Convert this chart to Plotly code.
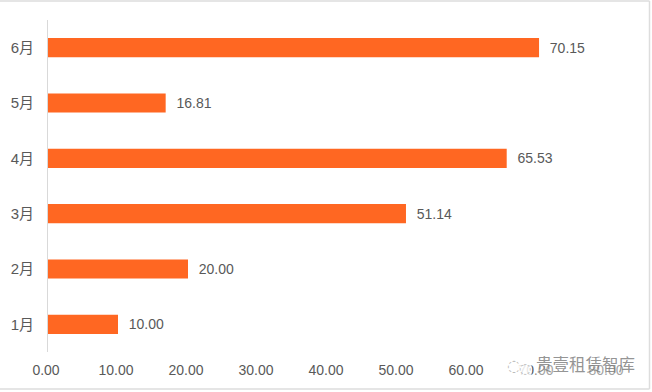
import plotly.graph_objects as go

months = ["1月", "2月", "3月", "4月", "5月", "6月"]
values = [10.00, 20.00, 51.14, 65.53, 16.81, 70.15]
x_ticks = [0, 10, 20, 30, 40, 50, 60, 70, 80]
x_tick_labels = ["0.00", "10.00", "20.00", "30.00", "40.00", "50.00", "60.00", "70.00", "80.00"]

W, H = 652, 392
FONT = "Liberation Sans, Noto Sans CJK SC, sans-serif"
L, R, T, B = 48, 608, 19.5, 352.5
PW, PH = R - L, B - T

def px(x):
    return (x - L) / PW

def py(y):
    return (B - y) / PH

fig = go.Figure(go.Bar(
    y=months, x=values, orientation="h",
    marker=dict(color="#FF6722", line=dict(width=0)),
    text=[f"\u00a0\u00a0{v:.2f}" for v in values],
    textposition="outside", cliponaxis=False,
    textfont=dict(size=14, color="#595959", family=FONT),
    width=0.345,
))
border = dict(color="#DDDDDD", width=1.5)
fig.update_layout(
    width=W, height=H, autosize=False,
    margin=dict(l=L, r=W - R, t=T, b=H - B, pad=0),
    paper_bgcolor="white", plot_bgcolor="white",
    showlegend=False,
    font=dict(family=FONT, size=14, color="#595959"),
    xaxis=dict(range=[0, 80], tickvals=x_ticks, ticktext=x_tick_labels,
               showgrid=False, zeroline=False, showline=False, ticks="",
               tickfont=dict(size=14, color="#595959"), ticklabelstandoff=8,
               ticklabelshift=-2),
    yaxis=dict(showgrid=False, zeroline=False, showline=True, linecolor="#D9D9D9",
               linewidth=1, ticks="", tickfont=dict(size=15, color="#595959"),
               ticklabelstandoff=10),
    shapes=[
        dict(type="line", xref="paper", yref="paper", x0=px(0), x1=px(649.5), y0=py(0.5), y1=py(0.5), line=border),
        dict(type="line", xref="paper", yref="paper", x0=px(0), x1=px(649.5), y0=py(389.5), y1=py(389.5), line=border),
        dict(type="line", xref="paper", yref="paper", x0=px(649.5), x1=px(649.5), y0=py(0.5), y1=py(389.5), line=border),
    ],
    annotations=[
        dict(text="贵壹租赁智库", xref="paper", yref="paper",
             x=px(585), y=py(365), showarrow=False, xanchor="center", yanchor="middle",
             bgcolor="rgba(255,255,255,0.45)", borderpad=0,
             font=dict(size=16.5, color="rgba(120,120,120,0.8)", family="Noto Sans CJK SC")),
        dict(text="◌", xref="paper", yref="paper",
             x=px(514), y=py(366), showarrow=False, xanchor="center", yanchor="middle",
             font=dict(size=16, color="rgba(170,170,170,0.8)", family="DejaVu Sans")),
        dict(text="◌", xref="paper", yref="paper",
             x=px(525), y=py(369), showarrow=False, xanchor="center", yanchor="middle",
             bgcolor="rgba(255,255,255,0.85)", borderpad=0,
             font=dict(size=14, color="rgba(170,170,170,0.8)", family="DejaVu Sans")),
    ],
)
fig.write_html("out.html", post_script="document.body.style.margin='0';",
               config=dict(displayModeBar=False))
